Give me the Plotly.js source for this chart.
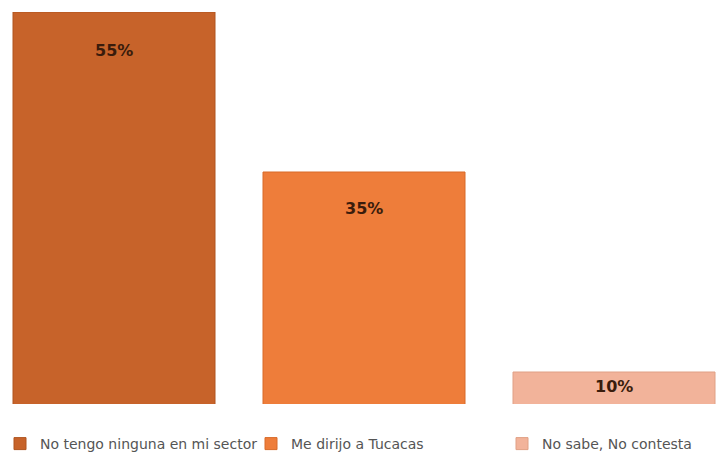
<!DOCTYPE html>
<html><head><meta charset="utf-8">
<script src="https://cdn.plot.ly/plotly-3.0.1.min.js"></script>
<style>html,body{margin:0;padding:0;background:#fff}#c{width:723px;height:460px}</style>
</head><body><div id="c"></div>
<script>
const categories = ["No tengo ninguna en mi sector", "Me dirijo a Tucacas", "No sabe, No contesta"];
const values = [55, 35, 10];
const labels = ["55%", "35%", "10%"];

const colors = ["#c7632a", "#ee7d3a", "#f2b39a"];
const lineColors = ["#b0551f", "#d86a28", "#e0a085"];
const labelShift = [-38, -36, -14];
const legendIds = ["legend", "legend2", "legend3"];
const legendX = [0, 251 / 723, 502 / 723];

const traces = categories.map((c, i) => ({
  type: "bar",
  name: c,
  x: [c],
  y: [values[i]],
  width: 0.808,
  legend: legendIds[i],
  marker: {color: colors[i], line: {color: lineColors[i], width: 1}},
  hoverinfo: "none"
}));

const annotations = categories.map((c, i) => ({
  x: c, y: values[i], text: "<b>" + labels[i] + "</b>",
  showarrow: false, yanchor: "middle", yshift: labelShift[i],
  font: {family: "'DejaVu Sans', sans-serif", size: 16, color: "#3a1c0c"}
}));

const layout = {
  width: 723, height: 460,
  margin: {l: 0, r: 0, t: 12, b: 55},
  paper_bgcolor: "#ffffff", plot_bgcolor: "#ffffff",
  barmode: "overlay",
  showlegend: true,
  xaxis: {type: "category", range: [-0.456, 2.436], showticklabels: false, showgrid: false, zeroline: false, showline: false, ticks: ""},
  yaxis: {range: [6, 55], showticklabels: false, showgrid: false, zeroline: false, showline: false, ticks: ""},
  annotations: annotations
};
legendIds.forEach((id, i) => {
  layout[id] = {orientation: "h", x: legendX[i], xanchor: "left", y: -0.06, yanchor: "top",
    itemwidth: 30, bgcolor: "rgba(0,0,0,0)",
    font: {family: "'DejaVu Sans', sans-serif", size: 14, color: "#555555"}};
});

Plotly.newPlot("c", traces, layout, {staticPlot: true});
</script></body></html>
